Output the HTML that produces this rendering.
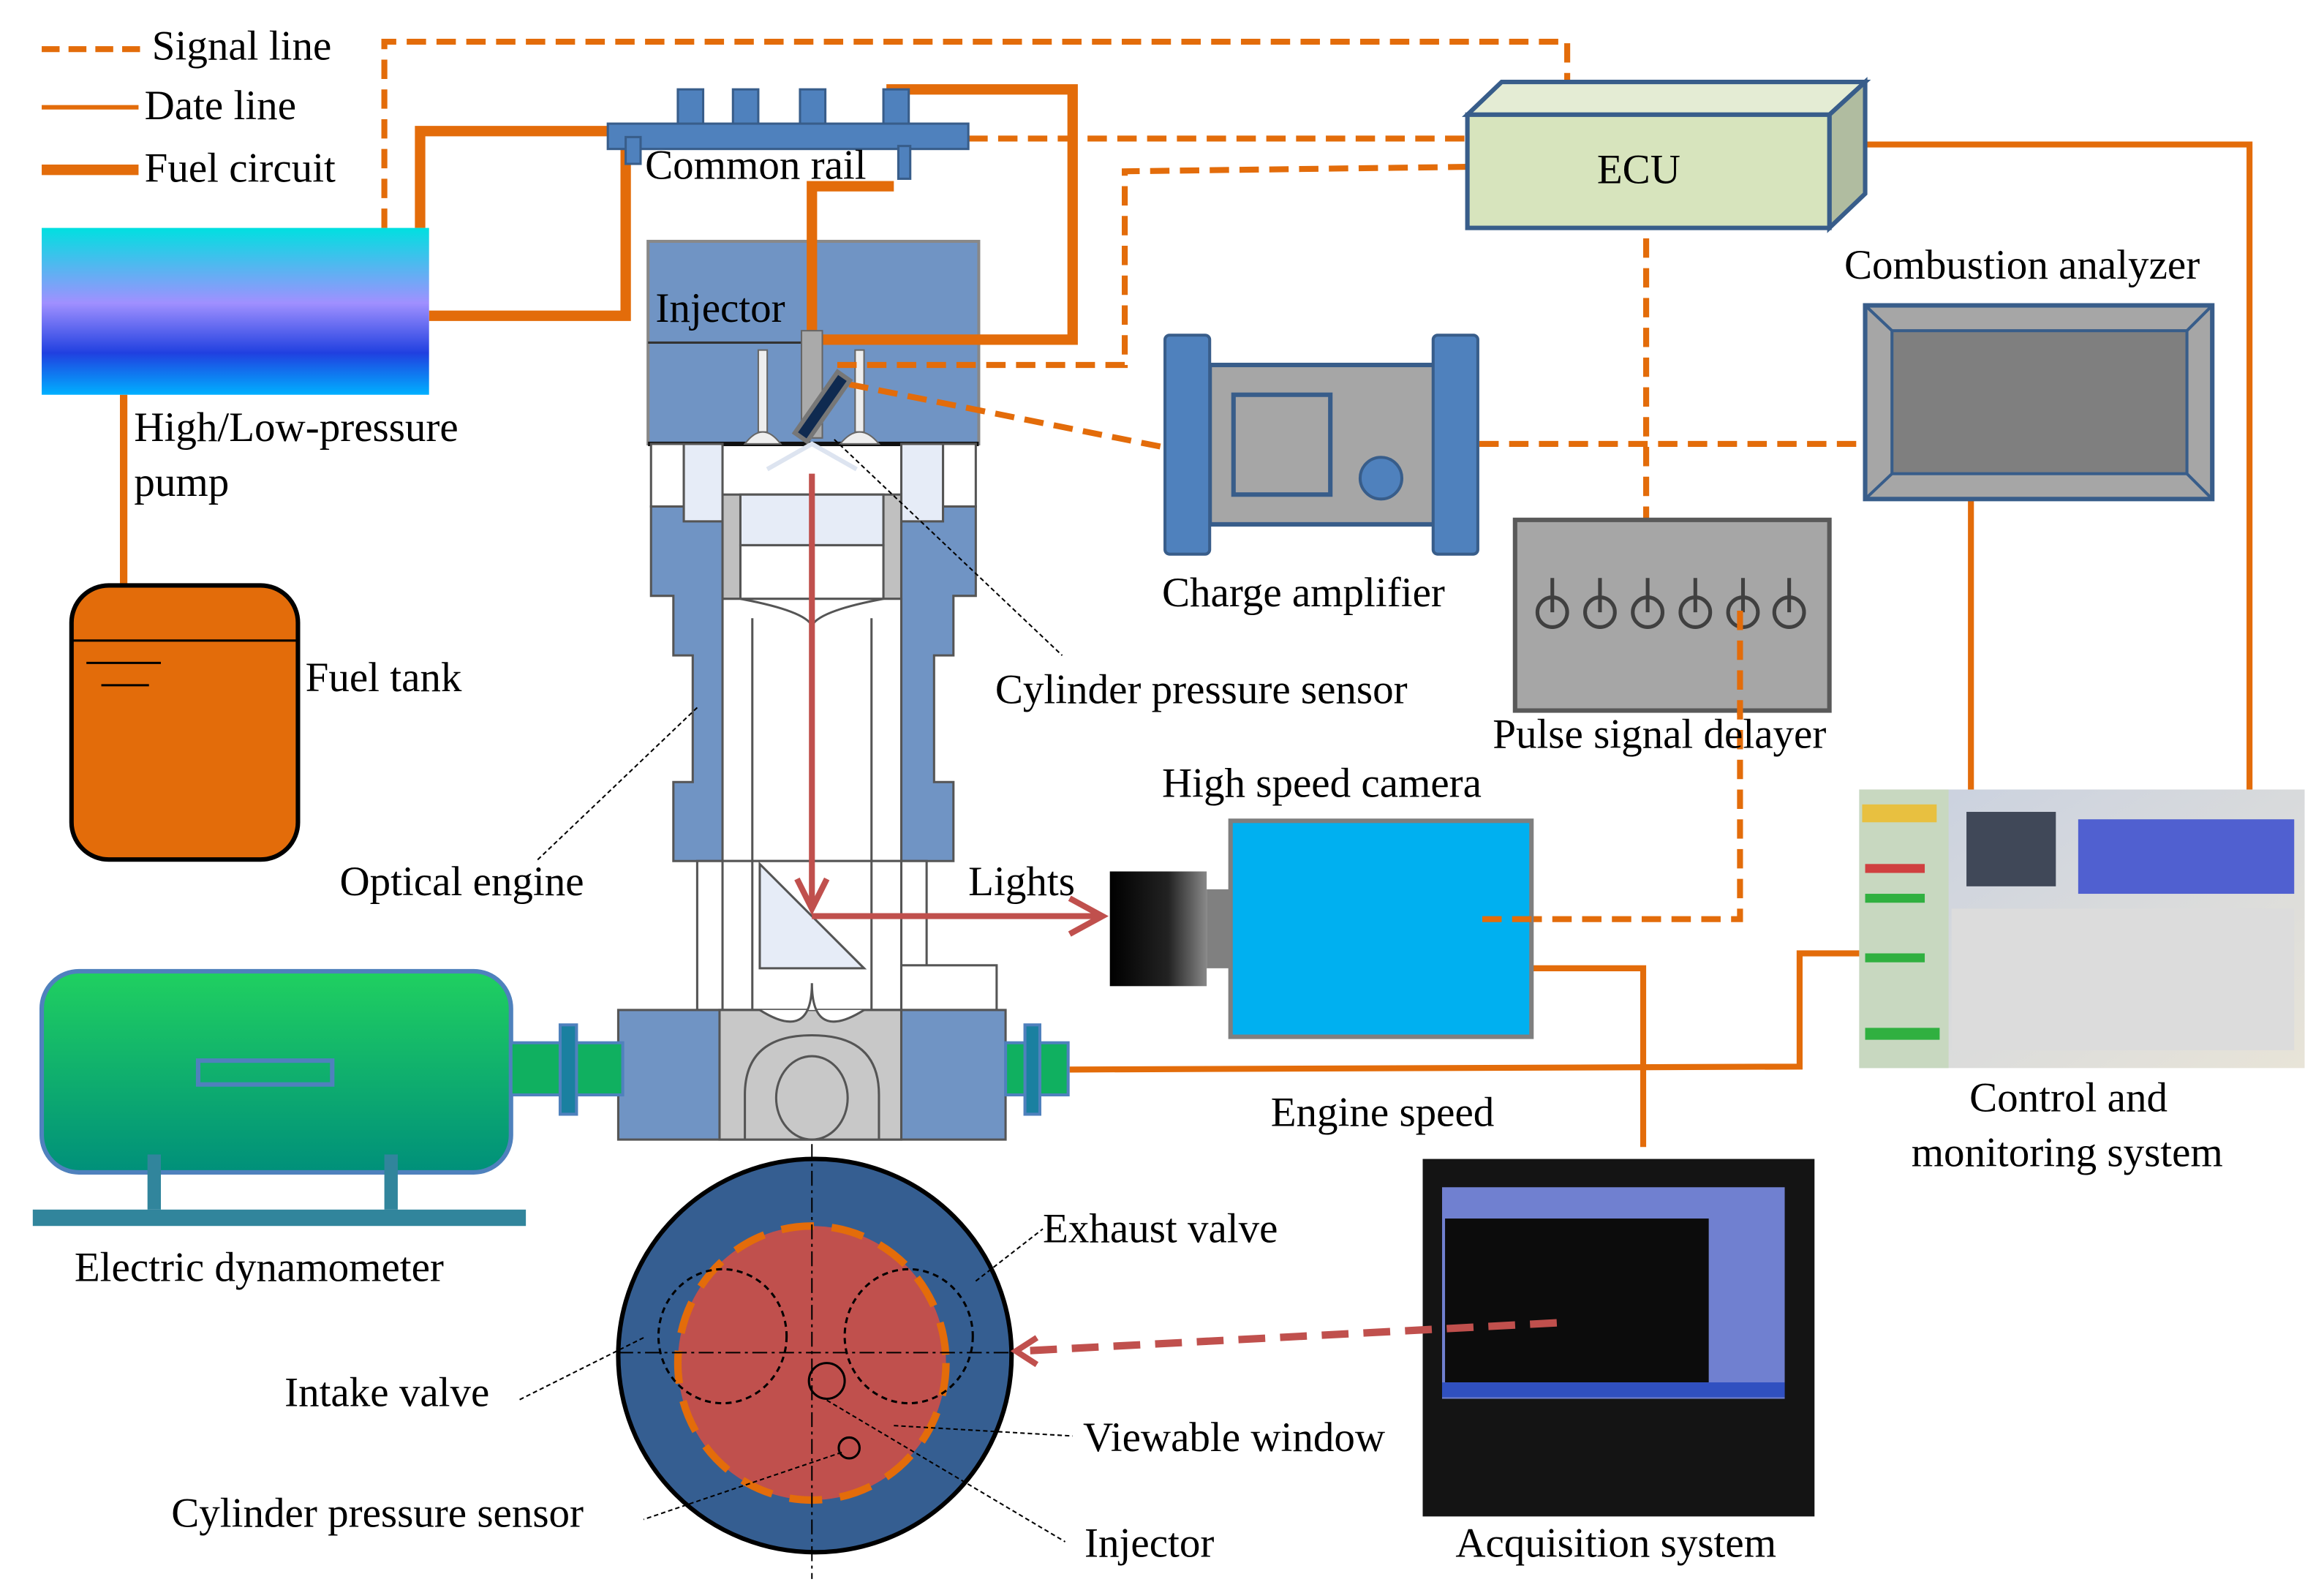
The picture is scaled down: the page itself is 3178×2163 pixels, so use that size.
<!DOCTYPE html>
<html><head><meta charset="utf-8"><style>html,body{margin:0;padding:0;background:#fff}svg{display:block}text{font-family:"Liberation Serif",serif;font-size:28px;fill:#000}</style></head><body>
<svg width="3178" height="2163" viewBox="0 0 1560 1062" preserveAspectRatio="none" xmlns="http://www.w3.org/2000/svg">
<defs>
<linearGradient id="pump" x1="0" y1="0" x2="0" y2="1"><stop offset="0" stop-color="#00e0e0"/><stop offset="0.45" stop-color="#a090ff"/><stop offset="0.75" stop-color="#2040e0"/><stop offset="1" stop-color="#00b0ff"/></linearGradient>
<linearGradient id="dyn" x1="0" y1="0" x2="0" y2="1"><stop offset="0" stop-color="#20d060"/><stop offset="1" stop-color="#00907a"/></linearGradient>
<linearGradient id="lens" x1="0" y1="0" x2="1" y2="0"><stop offset="0" stop-color="#000"/><stop offset="0.6" stop-color="#222"/><stop offset="1" stop-color="#888"/></linearGradient>
<linearGradient id="ctl" x1="0" y1="0" x2="1" y2="1"><stop offset="0" stop-color="#c8d0e0"/><stop offset="1" stop-color="#e8e4d8"/></linearGradient>
</defs>
<g fill="none" stroke="#e36c0a">
<line x1="28" y1="33" x2="95" y2="33" stroke-width="4" stroke-dasharray="12,6"/>
<line x1="28" y1="72" x2="93" y2="72" stroke-width="3"/>
<line x1="28" y1="114" x2="93" y2="114" stroke-width="7"/>
</g>
<text x="102" y="40">Signal  line</text><text x="97" y="80">Date line</text><text x="97" y="122">Fuel circuit</text>
<!-- engine head (drawn first so lines overlay) -->
<rect x="435" y="162" width="222" height="136" fill="#7094c4" stroke="#888" stroke-width="2"/>
<line x1="435" y1="230" x2="657" y2="230" stroke="#333" stroke-width="1.5"/>
<line x1="435" y1="298" x2="657" y2="298" stroke="#111" stroke-width="3"/>
<rect x="509" y="235" width="6" height="55" fill="#eee" stroke="#666"/><rect x="574" y="235" width="6" height="55" fill="#eee" stroke="#666"/>
<path d="M500,298 Q512,282 524,298Z M564,298 Q577,282 590,298Z" fill="#eee" stroke="#666"/>
<text x="440" y="216">Injector</text>
<!-- fuel lines -->
<g fill="none" stroke="#e36c0a" stroke-width="7">
<path d="M282,153 L282,88 L415,88"/><path d="M288,212 L420,212 L420,97 L432,97"/>
<path d="M600,125 L545,125 L545,228 L720,228 L720,60 L595,60"/>
</g>
<line x1="83" y1="265" x2="83" y2="393" stroke="#e36c0a" stroke-width="5"/>
<!-- signal lines -->
<g fill="none" stroke="#e36c0a" stroke-width="4" stroke-dasharray="13,7">
<path d="M258,153 L258,28 L1052,28 L1052,60"/><path d="M650,93 L985,93"/>
<path d="M985,112 L755,115 L755,245 L560,245"/><path d="M570,258 L780,300"/>
<path d="M993,298 L1252,298"/><path d="M1105,140 L1105,400"/>
<path d="M1168,410 L1168,617 L995,617"/>
</g>
<rect x="538" y="222" width="14" height="72" fill="#aaa" stroke="#666"/>
<rect x="547" y="248" width="10" height="50" fill="#0f2a50" stroke="#777" stroke-width="3" transform="rotate(35 552 273)"/>
<!-- data lines -->
<g fill="none" stroke="#e36c0a" stroke-width="4">
<path d="M1252,97 L1510,97 L1510,530"/><path d="M1323,315 L1323,530"/>
<path d="M1028,650 L1103,650 L1103,770"/><path d="M718,718 L1208,716 L1208,640 L1250,640"/>
</g>
<!-- pump & tank -->
<rect x="28" y="153" width="260" height="112" fill="url(#pump)"/>
<text x="90" y="296">High/Low-pressure</text><text x="90" y="333">pump</text>
<rect x="48" y="393" width="152" height="184" rx="25" fill="#e36c0a" stroke="#000" stroke-width="3"/>
<line x1="48" y1="430" x2="200" y2="430" stroke="#000" stroke-width="1.5"/>
<line x1="58" y1="445" x2="108" y2="445" stroke="#000" stroke-width="1.5"/><line x1="68" y1="460" x2="100" y2="460" stroke="#000" stroke-width="1.5"/>
<text x="205" y="464">Fuel tank</text>
<!-- common rail -->
<g fill="#4f81bd" stroke="#385d8a" stroke-width="1.5">
<rect x="455" y="60" width="17" height="26"/><rect x="492" y="60" width="17" height="26"/><rect x="537" y="60" width="17" height="26"/><rect x="593" y="60" width="17" height="26"/>
<rect x="408" y="83" width="242" height="17"/><rect x="420" y="92" width="10" height="18"/><rect x="603" y="98" width="8" height="22"/>
</g>
<text x="433" y="120">Common  rail</text>
<!-- engine body -->
<g fill="#7094c4" stroke="#555" stroke-width="1.5">
<path d="M437,340 L485,340 L485,578 L452,578 L452,525 L465,525 L465,440 L452,440 L452,400 L437,400Z"/>
<path d="M655,340 L605,340 L605,578 L640,578 L640,525 L627,525 L627,440 L640,440 L640,400 L655,400Z"/>
</g>
<g stroke="#555" stroke-width="1.5">
<rect x="437" y="298" width="22" height="42" fill="#fff"/><rect x="459" y="298" width="26" height="52" fill="#e6ecf7"/>
<rect x="633" y="298" width="22" height="42" fill="#fff"/><rect x="605" y="298" width="28" height="52" fill="#e6ecf7"/>
<rect x="485" y="332" width="120" height="70" fill="#c0c0c0"/><rect x="497" y="332" width="96" height="34" fill="#e6ecf7"/>
<rect x="497" y="366" width="96" height="36" fill="#fff"/>
<path d="M485,402 L605,402 L605,578 L485,578Z" fill="#fff"/>
<path d="M497,402 Q540,410 545,420 Q550,410 593,402" fill="none"/>
<line x1="505" y1="415" x2="505" y2="578"/><line x1="585" y1="415" x2="585" y2="578"/>
<rect x="468" y="578" width="154" height="100" fill="#fff"/>
<line x1="485" y1="578" x2="485" y2="678"/><line x1="505" y1="578" x2="505" y2="678"/><line x1="585" y1="578" x2="585" y2="678"/><line x1="605" y1="578" x2="605" y2="678"/>
<rect x="605" y="648" width="64" height="30" fill="#fff"/>
<path d="M510,580 L510,650 L580,650Z" fill="#e6ecf7"/>
<rect x="415" y="678" width="260" height="87" fill="#7094c4"/>
<rect x="483" y="678" width="122" height="87" fill="#c8c8c8"/>
<path d="M500,765 L500,735 Q500,695 545,695 Q590,695 590,735 L590,765" fill="none"/>
<path d="M510,678 Q545,700 545,660 Q545,700 580,678" fill="#fff"/>
</g>
<ellipse cx="545" cy="737" rx="24" ry="28" fill="none" stroke="#555" stroke-width="1.5"/>
<path d="M515,315 L545,298 L575,315" fill="none" stroke="#dde4f0" stroke-width="3"/>
<!-- beam -->
<g stroke="#c0504d" stroke-width="4" fill="none">
<line x1="545" y1="318" x2="545" y2="610"/><path d="M535,590 L545,610 L555,590"/>
<line x1="545" y1="615" x2="738" y2="615"/><path d="M718,603 L740,615 L718,627"/>
</g>
<text x="650" y="601">Lights</text>
<line x1="468" y1="475" x2="360" y2="578" stroke="#000" stroke-width="1" stroke-dasharray="3,2"/>
<text x="228" y="601">Optical engine</text>
<line x1="560" y1="295" x2="713" y2="440" stroke="#000" stroke-width="1" stroke-dasharray="3,2"/>
<text x="668" y="472">Cylinder pressure sensor</text>
<!-- dynamometer -->
<rect x="28" y="652" width="315" height="135" rx="25" fill="url(#dyn)" stroke="#4f81bd" stroke-width="3"/>
<rect x="133" y="712" width="90" height="16" fill="none" stroke="#4f81bd" stroke-width="3"/>
<rect x="99" y="775" width="9" height="37" fill="#31859c"/><rect x="258" y="775" width="9" height="37" fill="#31859c"/>
<rect x="22" y="812" width="331" height="11" fill="#31859c"/>
<rect x="343" y="700" width="75" height="35" fill="#10b060" stroke="#4f81bd" stroke-width="2"/>
<rect x="376" y="688" width="11" height="60" fill="#1a80a0" stroke="#4f81bd" stroke-width="2"/>
<rect x="675" y="700" width="42" height="35" fill="#10b060" stroke="#4f81bd" stroke-width="2"/>
<rect x="688" y="688" width="10" height="60" fill="#1a80a0" stroke="#4f81bd" stroke-width="2"/>
<text x="50" y="860">Electric dynamometer</text>
<!-- ECU -->
<path d="M985,77 L1008,55 L1252,55 L1228,77Z" fill="#e4ecd4" stroke="#385d8a" stroke-width="3"/>
<path d="M1228,77 L1252,55 L1252,130 L1228,153Z" fill="#b0bca0" stroke="#385d8a" stroke-width="3"/>
<rect x="985" y="77" width="243" height="76" fill="#d7e4bd" stroke="#385d8a" stroke-width="3"/>
<text x="1072" y="123">ECU</text>
<!-- combustion analyzer -->
<rect x="1252" y="205" width="233" height="130" fill="#a6a6a6" stroke="#385d8a" stroke-width="3"/>
<rect x="1270" y="222" width="198" height="96" fill="#7f7f7f" stroke="#385d8a" stroke-width="2"/>
<path d="M1252,205 L1270,222 M1485,205 L1468,222 M1252,335 L1270,318 M1485,335 L1468,318" stroke="#385d8a" stroke-width="2"/>
<text x="1238" y="187">Combustion analyzer</text>
<!-- charge amp -->
<rect x="812" y="245" width="153" height="107" fill="#a6a6a6" stroke="#385d8a" stroke-width="3"/>
<rect x="782" y="225" width="30" height="147" rx="3" fill="#4f81bd" stroke="#385d8a" stroke-width="2"/>
<rect x="962" y="225" width="30" height="147" rx="3" fill="#4f81bd" stroke="#385d8a" stroke-width="2"/>
<rect x="828" y="265" width="65" height="67" fill="none" stroke="#385d8a" stroke-width="3"/>
<circle cx="927" cy="321" r="14" fill="#4f81bd" stroke="#385d8a" stroke-width="2"/>
<text x="780" y="407">Charge amplifier</text>
<!-- pulse delayer -->
<rect x="1017" y="349" width="211" height="128" fill="#a6a6a6" stroke="#595959" stroke-width="3"/>
<g fill="none" stroke="#404040" stroke-width="2.5">
<circle cx="1042" cy="411" r="10"/><circle cx="1074" cy="411" r="10"/><circle cx="1106" cy="411" r="10"/><circle cx="1138" cy="411" r="10"/><circle cx="1170" cy="411" r="10"/><circle cx="1201" cy="411" r="10"/>
<path d="M1042,388V411M1074,388V411M1106,388V411M1138,388V411M1170,388V411M1201,388V411"/>
</g>
<line x1="1168" y1="410" x2="1168" y2="480" stroke="#e36c0a" stroke-width="4" stroke-dasharray="13,7"/>
<text x="1002" y="502">Pulse signal delayer</text>
<!-- camera -->
<text x="780" y="535">High  speed camera</text>
<rect x="826" y="551" width="202" height="145" fill="#00b0f0" stroke="#7f7f7f" stroke-width="3"/>
<line x1="995" y1="617" x2="1028" y2="617" stroke="#e36c0a" stroke-width="4" stroke-dasharray="13,7"/>
<rect x="745" y="585" width="65" height="77" fill="url(#lens)"/>
<rect x="810" y="597" width="16" height="53" fill="#808080"/>
<text x="853" y="756">Engine  speed</text>
<!-- control system -->
<rect x="1248" y="530" width="299" height="187" fill="url(#ctl)"/>
<rect x="1248" y="530" width="60" height="187" fill="#c8d8c0"/>
<rect x="1250" y="540" width="50" height="12" fill="#e8c040"/>
<rect x="1252" y="580" width="40" height="6" fill="#d04040"/><rect x="1252" y="600" width="40" height="6" fill="#30b040"/><rect x="1252" y="640" width="40" height="6" fill="#30b040"/><rect x="1252" y="690" width="50" height="8" fill="#30b040"/>
<rect x="1395" y="550" width="145" height="50" fill="#5060d0"/>
<rect x="1320" y="545" width="60" height="50" fill="#404858"/>
<rect x="1310" y="610" width="230" height="95" fill="#dcdcdc"/>
<text x="1322" y="746">Control and</text><text x="1283" y="783">monitoring  system</text>
<!-- acquisition -->
<rect x="955" y="778" width="263" height="240" fill="#141414"/>
<rect x="968" y="797" width="230" height="142" fill="#7080d0"/>
<rect x="970" y="818" width="177" height="110" fill="#0c0c0c"/>
<rect x="968" y="928" width="230" height="10" fill="#3050c0"/>
<text x="977" y="1045">Acquisition system</text>
<!-- bottom view -->
<ellipse cx="547" cy="910" rx="132" ry="132" fill="#355e91" stroke="#000" stroke-width="3"/>
<ellipse cx="545" cy="915" rx="90" ry="92" fill="#c0504d" stroke="#e36c0a" stroke-width="5" stroke-dasharray="22,12"/>
<g fill="none" stroke="#000" stroke-width="1.5" stroke-dasharray="4,3">
<ellipse cx="485" cy="897" rx="43" ry="45"/><ellipse cx="610" cy="897" rx="43" ry="45"/>
</g>
<g stroke="#000" stroke-width="1" stroke-dasharray="10,3,2,3">
<line x1="545" y1="768" x2="545" y2="1060"/><line x1="415" y1="908" x2="680" y2="908"/>
</g>
<circle cx="555" cy="927" r="12" fill="none" stroke="#000" stroke-width="1.5"/>
<circle cx="570" cy="972" r="7" fill="none" stroke="#000" stroke-width="1.5"/>
<g stroke="#000" stroke-width="1" stroke-dasharray="3,2" fill="none">
<line x1="655" y1="860" x2="700" y2="825"/><line x1="600" y1="957" x2="720" y2="964"/>
<line x1="555" y1="940" x2="715" y2="1035"/><line x1="565" y1="975" x2="432" y2="1020"/>
<line x1="432" y1="898" x2="348" y2="940"/>
</g>
<path d="M1045,888 L685,907" stroke="#c0504d" stroke-width="5" stroke-dasharray="18,10"/>
<path d="M696,898 L682,907 L696,916" fill="none" stroke="#c0504d" stroke-width="4"/>
<text x="700" y="834">Exhaust valve</text><text x="191" y="944">Intake valve</text>
<text x="727" y="974">Viewable window</text><text x="115" y="1025">Cylinder pressure sensor</text>
<text x="728" y="1045">Injector</text>
</svg>
</body></html>
